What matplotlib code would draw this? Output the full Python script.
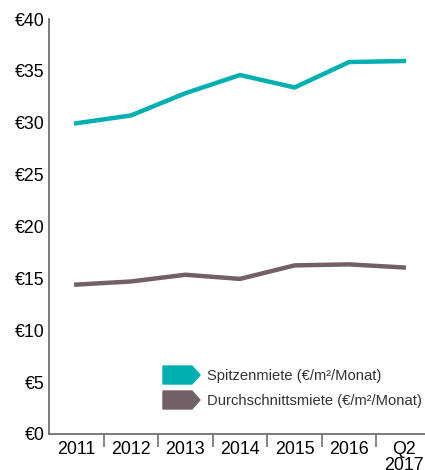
import numpy as np
import matplotlib.pyplot as plt
from matplotlib.patches import Polygon

plt.rcParams['font.family'] = ['Liberation Sans', 'DejaVu Sans']

categories = ['2011', '2012', '2013', '2014', '2015', '2016', 'Q2\n2017']
spitzenmiete = [29.95, 30.7, 32.85, 34.6, 33.4, 35.85, 35.95]
durchschnittsmiete = [14.4, 14.7, 15.35, 14.95, 16.25, 16.35, 16.05]
y_ticks = [0, 5, 10, 15, 20, 25, 30, 35, 40]
legend_labels = ['Spitzenmiete (€/m²/Monat)', 'Durchschnittsmiete (€/m²/Monat)']

teal = '#00AFB0'
brown = '#735F66'
axis_gray = '#707070'

fig = plt.figure(figsize=(4.25, 4.7), dpi=100)
ax = fig.add_axes([49 / 425, 36 / 470, 382 / 425, 415 / 470])

x = np.arange(len(categories))
ax.plot(x, spitzenmiete, color=teal, lw=3.2, solid_joinstyle='miter')
ax.plot(x, durchschnittsmiete, color=brown, lw=3.2, solid_joinstyle='miter')

ax.set_xlim(-0.5, len(categories) - 0.5)
ax.set_ylim(0, 40)
ax.set_yticks(y_ticks)
ax.set_yticklabels([f'€{v}' for v in y_ticks], fontsize=12.8)
ax.tick_params(axis='y', length=0, pad=3)

# tick marks between categories, labels centered on categories
ax.set_xticks(x[:-1] + 0.5)
ax.set_xticklabels([])
ax.tick_params(axis='x', which='major', length=9, width=1.2, color=axis_gray)
ax.set_xticks(x, minor=True)
ax.set_xticklabels(categories, minor=True, fontsize=12.8, linespacing=0.9)
ax.tick_params(axis='x', which='minor', length=0, pad=5)

for s in ['top', 'right']:
    ax.spines[s].set_visible(False)
for s in ['left', 'bottom']:
    ax.spines[s].set_color(axis_gray)
    ax.spines[s].set_linewidth(1.3)

# legend with arrow-shaped swatches
def swatch(y_top, color):
    x0, x1, tip = 163, 192, 200
    h = 18
    pts = [(x0, y_top), (x1, y_top), (tip, y_top + h / 2), (x1, y_top + h), (x0, y_top + h)]
    pts = [(px / 425, 1 - py / 470) for px, py in pts]
    fig.patches.append(Polygon(pts, closed=True, color=color, transform=fig.transFigure))

for i, (label, color) in enumerate(zip(legend_labels, [teal, brown])):
    y_top = 366 + i * 25
    swatch(y_top, color)
    fig.text(207 / 425, 1 - (y_top + 10) / 470, label, fontsize=10.6,
             color='#333333', va='center', ha='left')

fig.savefig('out.png', dpi=100)
